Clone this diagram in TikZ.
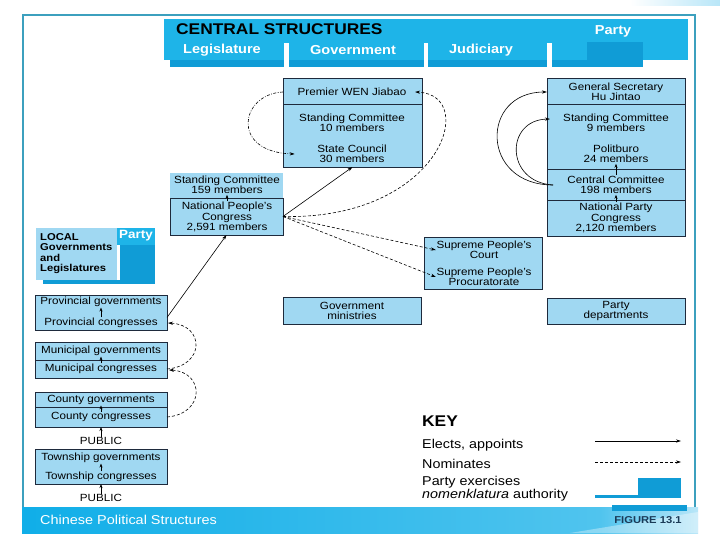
\documentclass[tikz,border=0pt]{standalone}
\usepackage{fontspec}
\setmainfont[FakeStretch=1.12]{Liberation Sans}
\usetikzlibrary{arrows.meta,calc}
\definecolor{boxfill}{HTML}{A0D8F2}
\definecolor{boxline}{HTML}{1E2A3C}
\definecolor{cyanhdr}{HTML}{1EB4E8}
\definecolor{partyblue}{HTML}{109CD6}
\definecolor{framec}{HTML}{3CA0BE}
\definecolor{barL}{HTML}{10AEE8}
\definecolor{barM}{HTML}{50C4EE}
\definecolor{barR}{HTML}{B8E6F8}
\definecolor{navy}{HTML}{1B3A57}
\begin{document}
\begin{tikzpicture}[x=1pt,y=-1pt,
  box/.style={draw=boxline, fill=boxfill, line width=0.7pt, inner sep=0pt, outer sep=0pt, anchor=north west},
  t/.style={font=\fontsize{10.4}{10.5}\selectfont, align=center, inner sep=0.5pt, text=black},
  kt/.style={font=\fontsize{12.8}{13}\selectfont, inner sep=0pt, anchor=west},
  hdr/.style={font=\fontsize{13}{13}\selectfont\bfseries, text=white, inner sep=0pt},
  elect/.style={draw=black, line width=0.6pt, -{Stealth[length=5pt,width=3.2pt]}},
  smallarr/.style={draw=black, line width=0.6pt, -{Stealth[length=4pt,width=3pt]}},
  nominate/.style={elect, dash pattern=on 3pt off 2pt},
  nomdot/.style={elect, dash pattern=on 3pt off 1.5pt on 0.8pt off 1.5pt},
  divider/.style={draw=boxline, line width=0.7pt}]
\useasboundingbox (0,0) rectangle (720,540);
\fill[white] (0,0) rectangle (720,540);
\shade[left color=white, right color=barR] (630,0) rectangle (720,6);

% frame
\draw[framec, line width=1.6pt] (23,507) -- (23,15) -- (695,15) -- (695,507);

% header
\fill[cyanhdr] (164,19) rectangle (688,60);
\fill[partyblue] (170,60) rectangle (284,67);
\fill[partyblue] (289,60) rectangle (424,67);
\fill[partyblue] (428,60) rectangle (547,67);
\fill[partyblue] (552,60) rectangle (643,67);
\fill[partyblue] (587,42) rectangle (643,67);
\fill[white] (284,43) rectangle (289,68);
\fill[white] (424,43) rectangle (428,68);
\fill[white] (547,43) rectangle (552,68);
\node[anchor=west, font=\fontsize{15.5}{15.5}\selectfont\bfseries, inner sep=0pt] (central) at (176,29) {CENTRAL STRUCTURES};
\node[hdr] (hparty) at (613,31) {Party};
\node[hdr] (hleg) at (222,50) {Legislature};
\node[hdr] (hgov) at (353,50) {Government};
\node[hdr] (hjud) at (481,50) {Judiciary};

% government column
\node[box, minimum width=139, minimum height=89] (govbox) at (283,78) {};
\draw[divider] (283,104) -- (422,104);
\node[t] (premier) at (352,92) {Premier WEN Jiabao};
\node[t] (govsc) at (352,123) {Standing Committee\\10 members};
\node[t] (state) at (352,154) {State Council\\30 members};

% legislature
\node[box, draw=none, minimum width=113, minimum height=25] (scbox) at (170,173) {};
\node[box, minimum width=113, minimum height=37] (npcbox) at (170,198) {};
\node[t] (sc) at (227,185) {Standing Committee\\159 members};
\node[t] (npc) at (227,217) {National People's\\Congress\\2,591 members};

% party column
\node[box, minimum width=138, minimum height=158] (partybox) at (547,78) {};
\draw[divider] (547,104) -- (685,104);
\draw[divider] (547,169) -- (685,169);
\draw[divider] (547,200) -- (685,200);
\node[t] (gensec) at (616,92) {General Secretary\\Hu Jintao};
\node[t] (psc) at (616,123) {Standing Committee\\9 members};
\node[t] (polit) at (616,154) {Politburo\\24 members};
\node[t] (cc) at (616,185) {Central Committee\\198 members};
\node[t] (npcong) at (616,218) {National Party\\Congress\\2,120 members};

% judiciary
\node[box, minimum width=118, minimum height=52] (supbox) at (424,237) {};
\node[t] (court) at (484,250) {Supreme People's\\Court};
\node[t] (proc) at (484,277) {Supreme People's\\Procuratorate};

% ministries / departments
\node[box, minimum width=138, minimum height=27] (minbox) at (283,297) {};
\node[t] (mins) at (352,311) {Government\\ministries};
\node[box, minimum width=138, minimum height=26] (depbox) at (547,298) {};
\node[t] (deps) at (616,311) {Party\\departments};

% local header
\fill[partyblue] (43,280) rectangle (155,284);
\fill[partyblue] (120,244) rectangle (155,284);
\node[box, draw=none, minimum width=81, minimum height=52] (localbox) at (36,228) {};
\fill[cyanhdr] (117,228) rectangle (155,245);
\node[hdr, font=\fontsize{12}{12}\selectfont\bfseries] (lparty) at (136,236) {Party};
\node[anchor=north west, align=left, font=\fontsize{10}{10.6}\selectfont\bfseries, inner sep=0pt] (localtxt) at (40,233) {LOCAL\\Governments\\and\\Legislatures};

% local boxes
\node[box, minimum width=132, minimum height=35] (provbox) at (35,295) {};
\node[t] (provgov) at (101,302) {Provincial governments};
\node[t] (provcong) at (101,323) {Provincial congresses};

\node[box, minimum width=132, minimum height=36] (munibox) at (35,342) {};
\draw[divider] (35,360) -- (167,360);
\node[t] (munigov) at (101,351) {Municipal governments};
\node[t] (municong) at (101,369) {Municipal congresses};

\node[box, minimum width=132, minimum height=35] (cntybox) at (35,392) {};
\draw[divider] (35,407) -- (167,407);
\node[t] (cntygov) at (101,400) {County governments};
\node[t] (cntycong) at (101,417) {County congresses};
\node[t] (pub1) at (101,441) {PUBLIC};

\node[box, minimum width=132, minimum height=35] (townbox) at (35,449) {};
\node[t] (towngov) at (101,458) {Township governments};
\node[t] (towncong) at (101,477) {Township congresses};
\node[t] (pub2) at (101,498) {PUBLIC};

% small internal arrows
\draw[smallarr] (provcong.north) -- (provgov.south);
\draw[smallarr] (municong.north) -- (munigov.south);
\draw[smallarr] (cntycong.north) -- (cntygov.south);
\draw[smallarr] (towncong.north) -- (towngov.south);
\draw[smallarr] (pub1.north) -- (cntybox.south);
\draw[smallarr] (pub2.north) -- (townbox.south);
\draw[smallarr] (npc.north) -- (sc.south);
\draw[smallarr] (cc.north) -- (polit.south);
\draw[smallarr] (npcong.north) -- (cc.south);

% main connectors
\draw[elect] ($(provbox.east)+(0,5)$) -- (npcbox.south);
\draw[elect] (npcbox.east) -- (govbox.south);
\draw[nominate] (npcbox.east) -- (court.west);
\draw[nominate] (npcbox.east) -- (proc.west);
\draw[nominate] (npcbox.east) .. controls (440,220) and (480,95) .. ([xshift=8pt]premier.east);
\draw[nomdot] (govbox.west |- premier) .. controls (240,94) and (230,152) .. ([xshift=-22pt]state.west);

\coordinate (ccL) at ($(partybox.west |- cc)+(6,0)$);
\draw[elect] (ccL) .. controls (480,185) and (480,92) .. (partybox.west |- gensec);
\draw[elect] (ccL) .. controls (505,182) and (505,120) .. ($(partybox.west |- psc)+(3,-4)$);

\draw[nominate] (municong -| munibox.east) .. controls (205,366) and (205,325) .. ($(provcong -| provbox.east)+(1,0)$);
\draw[nominate] (cntycong -| cntybox.east) .. controls (205,414) and (205,372) .. ($(municong -| munibox.east)+(2,1)$);

% key
\node[anchor=west, font=\fontsize{15.5}{15.5}\selectfont\bfseries, inner sep=0pt] (key) at (422,421) {KEY};
\node[kt] (kel) at (422,445) {Elects, appoints};
\node[kt] (knom) at (422,464) {Nominates};
\node[kt, anchor=north west, align=left] (kparty) at (422,476) {Party exercises\\\textit{nomenklatura} authority};
\coordinate (ke1) at (595,441);
\coordinate (ke2) at (681,441);
\draw[elect] (ke1) -- (ke2);
\coordinate (kn1) at (595,462);
\coordinate (kn2) at (681,462);
\draw[nominate] (kn1) -- (kn2);
\fill[partyblue] (595,495) rectangle (681,498);
\fill[partyblue] (638,478) rectangle (681,498);

% bottom bar
\shade[left color=barL, right color=barM] (22,507) rectangle (600,533);
\shade[left color=barM, right color=barR] (600,507) rectangle (698,533);
\fill[white, opacity=0.35] (570,533) -- (698,512) -- (698,533) -- cycle;
\fill[partyblue] (612,505) rectangle (687,511);
\node[anchor=west, font=\fontsize{12.9}{13}\selectfont, text=white, inner sep=0pt] (title) at (40,520) {Chinese Political Structures};
\node[font=\fontsize{10}{10}\selectfont\bfseries, text=navy, inner sep=0pt] (fig) at (648,520) {FIGURE 13.1};
\end{tikzpicture}
\end{document}
